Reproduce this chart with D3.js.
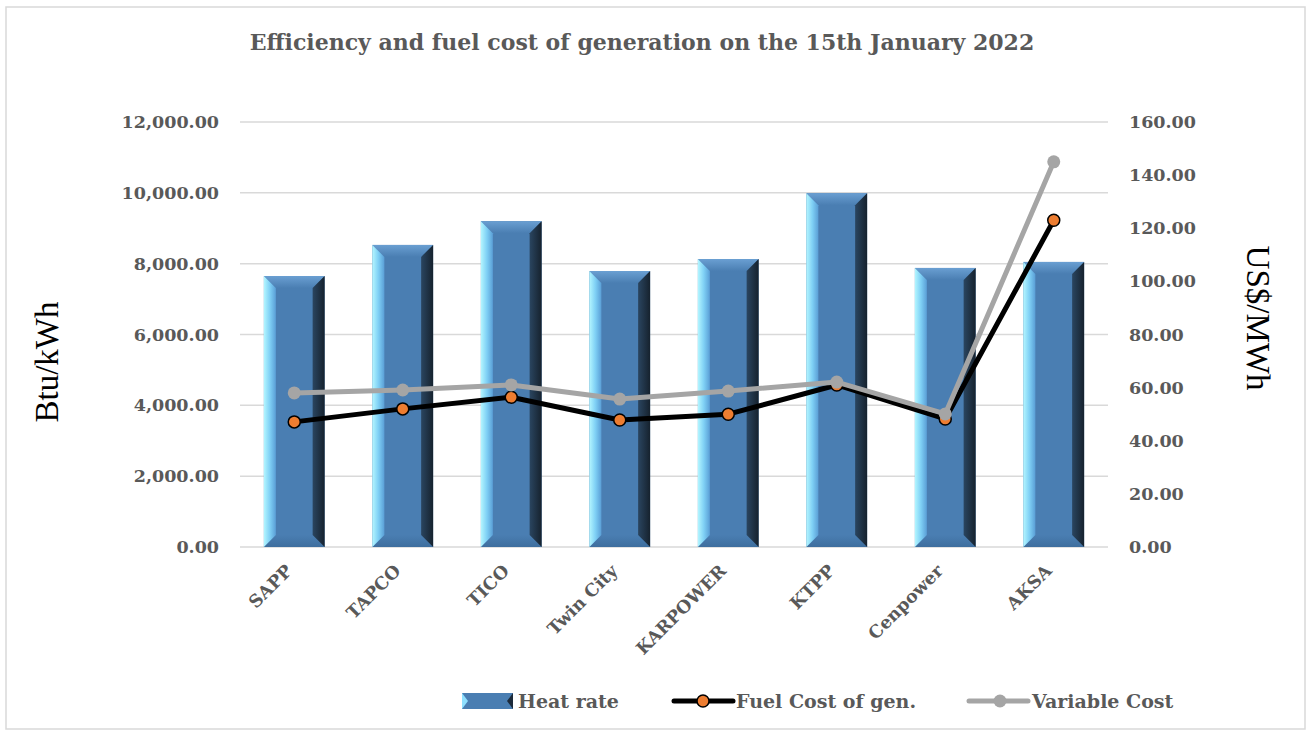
<!DOCTYPE html>
<html>
<head>
<meta charset="utf-8">
<title>Efficiency and fuel cost</title>
<script src="https://cdnjs.cloudflare.com/ajax/libs/d3/7.8.5/d3.min.js"></script>
<style>
body { margin: 0; background: #fff; font-family: "DejaVu Serif", serif; }
.grid line { stroke: #d9d9d9; stroke-width: 1.5px; }
.tick text { fill: #595959; font-weight: bold; font-size: 17.5px; font-family: "DejaVu Serif", serif; }
</style>
</head>
<body>
<script>
var plants = ["SAPP", "TAPCO", "TICO", "Twin City", "KARPOWER", "KTPP", "Cenpower", "AKSA"];
var heatRate = [7650, 8530, 9200, 7790, 8130, 9990, 7880, 8050];
var fuelCost = [47.1, 52.0, 56.4, 47.8, 50.0, 61.0, 48.2, 123.0];
var variableCost = [58.0, 59.1, 61.0, 55.7, 58.7, 62.1, 50.1, 145.0];
var leftTicks = [0, 2000, 4000, 6000, 8000, 10000, 12000];
var rightTicks = [0, 20, 40, 60, 80, 100, 120, 140, 160];

var W = 1311, H = 732;
var plot = {left: 240, right: 1108, top: 122, bottom: 547};

var svg = d3.select("body").append("svg").attr("width", W).attr("height", H);

var defs = svg.append("defs");
function grad(id, x2, y2, stops) {
    var g = defs.append("linearGradient").attr("id", id)
        .attr("x1", 0).attr("y1", 0).attr("x2", x2).attr("y2", y2);
    stops.forEach(function(s) {
        g.append("stop").attr("offset", s[0]).attr("stop-color", s[1]);
    });
}
grad("gLeft", 1, 0, [[0, "#b4f6ff"], [0.5, "#7fd0f5"], [1, "#5a9ed6"]]);
grad("gRight", 1, 0, [[0, "#2a4560"], [1, "#16222e"]]);
grad("gTop", 0, 1, [[0, "#6a9fd2"], [1, "#4a7eb2"]]);
grad("gBot", 0, 1, [[0, "#4a7eb2"], [1, "#3e6e9e"]]);

svg.append("rect").attr("x", 6).attr("y", 7).attr("width", 1299).attr("height", 722)
    .attr("fill", "none").attr("stroke", "#d9d9d9").attr("stroke-width", 1.5);

var x = d3.scaleBand().domain(plants).range([plot.left, plot.right]).paddingInner(0.44).paddingOuter(0.22);
var yL = d3.scaleLinear().domain([0, 12000]).range([plot.bottom, plot.top]);
var yR = d3.scaleLinear().domain([0, 160]).range([plot.bottom, plot.top]);

// gridlines
svg.append("g").attr("class", "grid")
    .selectAll("line").data(leftTicks).join("line")
    .attr("x1", plot.left).attr("x2", plot.right)
    .attr("y1", function(d) { return yL(d); }).attr("y2", function(d) { return yL(d); });

// axes
var axL = svg.append("g").attr("transform", "translate(" + (plot.left - 18) + ",0)")
    .call(d3.axisLeft(yL).tickValues(leftTicks).tickSize(0).tickFormat(d3.format(",.2f")));
axL.select(".domain").remove();
var axR = svg.append("g").attr("transform", "translate(" + (plot.right + 18) + ",0)")
    .call(d3.axisRight(yR).tickValues(rightTicks).tickSize(0).tickFormat(d3.format(".2f")));
axR.select(".domain").remove();

// bars with bevel
var bev = 12;
var bars = svg.append("g").selectAll("g").data(plants).join("g");
bars.each(function(p, i) {
    var g = d3.select(this);
    var x0 = x(p), x1 = x(p) + x.bandwidth();
    var y0 = yL(heatRate[i]), y1 = yL(0);
    g.append("rect").attr("x", x0).attr("y", y0).attr("width", x1 - x0).attr("height", y1 - y0).attr("fill", "#4a7eb2");
    function poly(pts, fill) {
        g.append("polygon").attr("points", pts.map(function(q) { return q.join(","); }).join(" ")).attr("fill", fill);
    }
    poly([[x0, y0], [x1, y0], [x1 - bev, y0 + bev], [x0 + bev, y0 + bev]], "url(#gTop)");
    poly([[x0, y1], [x1, y1], [x1 - bev, y1 - bev], [x0 + bev, y1 - bev]], "url(#gBot)");
    poly([[x0, y0], [x0 + bev, y0 + bev], [x0 + bev, y1 - bev], [x0, y1]], "url(#gLeft)");
    poly([[x1, y0], [x1 - bev, y0 + bev], [x1 - bev, y1 - bev], [x1, y1]], "url(#gRight)");
});

// lines
function cx(p) { return x(p) + x.bandwidth() / 2; }
var line = d3.line().x(function(d, i) { return cx(plants[i]); }).y(function(d) { return yR(d); });

svg.append("path").attr("d", line(fuelCost)).attr("fill", "none")
    .attr("stroke", "#000").attr("stroke-width", 5).attr("stroke-linejoin", "round");
svg.append("g").selectAll("circle").data(fuelCost).join("circle")
    .attr("cx", function(d, i) { return cx(plants[i]); }).attr("cy", function(d) { return yR(d); })
    .attr("r", 6).attr("fill", "#ed7d31").attr("stroke", "#000").attr("stroke-width", 1.5);

svg.append("path").attr("d", line(variableCost)).attr("fill", "none")
    .attr("stroke", "#a5a5a5").attr("stroke-width", 5).attr("stroke-linejoin", "round");
svg.append("g").selectAll("circle").data(variableCost).join("circle")
    .attr("cx", function(d, i) { return cx(plants[i]); }).attr("cy", function(d) { return yR(d); })
    .attr("r", 6.5).attr("fill", "#a5a5a5");

// x labels
svg.append("g").selectAll("text").data(plants).join("text")
    .attr("transform", function(p) { return "translate(" + (cx(p) - 1) + ",572) rotate(-45)"; })
    .attr("text-anchor", "end").attr("fill", "#595959").attr("font-weight", "bold").attr("font-size", 17.5)
    .text(function(p) { return p; });

// title
svg.append("text").attr("x", 642).attr("y", 50).attr("text-anchor", "middle")
    .attr("fill", "#595959").attr("font-weight", "bold").attr("font-size", 22)
    .text("Efficiency and fuel cost of generation on the 15th January 2022");

// axis titles
svg.append("text").attr("transform", "translate(58,362) rotate(-90)").attr("text-anchor", "middle")
    .attr("font-family", "Liberation Serif").attr("font-size", 33).attr("fill", "#000").text("Btu/kWh");
svg.append("text").attr("transform", "translate(1247,318) rotate(90)").attr("text-anchor", "middle")
    .attr("font-family", "Liberation Serif").attr("font-size", 33).attr("fill", "#000").text("US$/MWh");

// legend
var lg = svg.append("g").attr("font-weight", "bold").attr("font-size", 19).attr("fill", "#595959");
var sw = lg.append("g");
var sx0 = 462, sx1 = 513, sy0 = 693, sy1 = 709, sb = 6;
sw.append("rect").attr("x", sx0).attr("y", sy0).attr("width", sx1 - sx0).attr("height", sy1 - sy0).attr("fill", "#4a7eb2");
sw.append("polygon").attr("points", [[sx0, sy0], [sx0 + sb, (sy0 + sy1) / 2], [sx0, sy1]].join(" ")).attr("fill", "#8fe0ff");
sw.append("polygon").attr("points", [[sx1, sy0], [sx1 - sb, (sy0 + sy1) / 2], [sx1, sy1]].join(" ")).attr("fill", "#1c2a3a");
lg.append("text").attr("x", 518).attr("y", 708).text("Heat rate");

lg.append("line").attr("x1", 674).attr("x2", 733).attr("y1", 701).attr("y2", 701)
    .attr("stroke", "#000").attr("stroke-width", 5).attr("stroke-linecap", "round");
lg.append("circle").attr("cx", 703).attr("cy", 701).attr("r", 6).attr("fill", "#ed7d31").attr("stroke", "#000").attr("stroke-width", 1.5);
lg.append("text").attr("x", 736).attr("y", 708).text("Fuel Cost of gen.");

lg.append("line").attr("x1", 969).attr("x2", 1028).attr("y1", 701).attr("y2", 701)
    .attr("stroke", "#a5a5a5").attr("stroke-width", 5).attr("stroke-linecap", "round");
lg.append("circle").attr("cx", 1000).attr("cy", 701).attr("r", 6.5).attr("fill", "#a5a5a5");
lg.append("text").attr("x", 1032).attr("y", 708).text("Variable Cost");
</script>
</body>
</html>
